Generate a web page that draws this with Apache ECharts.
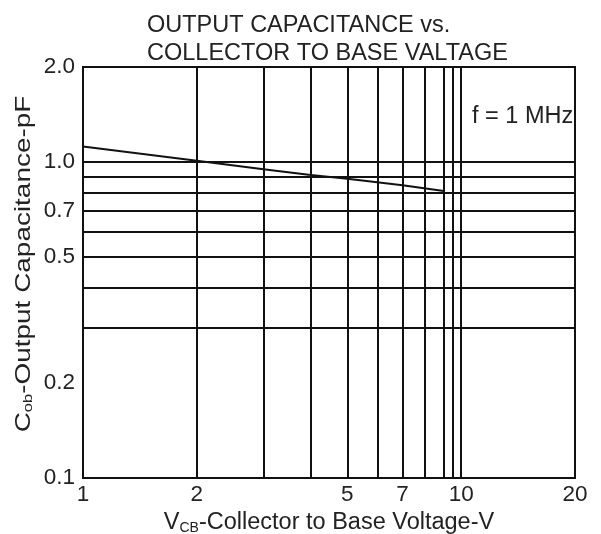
<!DOCTYPE html>
<html><head><meta charset="utf-8">
<script src="https://cdn.jsdelivr.net/npm/echarts@6/dist/echarts.min.js"></script>
<style>html,body{margin:0;padding:0;background:#fff}#c{width:601px;height:534px}</style>
</head><body><div id="c"></div>
<script>
var curveV = [1, 2, 3, 4, 5, 7, 9];
var curveC = [1.12, 1.01, 0.95, 0.91, 0.885, 0.845, 0.81];
var xTickLabels = [1, 2, 5, 7, 10, 20];
var yTickLabels = [0.1, 0.2, 0.5, 0.7, 1.0, 2.0];
var xGridValues = [2, 3, 4, 5, 6, 7, 8, 9, 9.5, 10];
var yGridValues = [0.3, 0.4, 0.5, 0.6, 0.7, 0.8, 0.9, 1.0];
var yAxisTitle = '{a|C}{s|ob}{a|-Output Capacitance-pF}';
var xAxisTitle = '{a|V}{s|CB}{a|-Collector to Base Voltage-V}';

var FONT = '"Liberation Sans", Arial, sans-serif';
var TXT = '#222';
var chart = echarts.init(document.getElementById('c'), null, {renderer: 'canvas'});
var markData = [];
xGridValues.forEach(function (v) { markData.push({xAxis: v}); });
yGridValues.forEach(function (v) { markData.push({yAxis: v}); });

chart.setOption({
  animation: false,
  backgroundColor: '#fff',
  title: [{
    text: 'OUTPUT CAPACITANCE vs.\nCOLLECTOR TO BASE VALTAGE',
    left: 142, top: 7,
    textStyle: {fontFamily: FONT, fontSize: 23.5, fontWeight: 'normal', color: TXT, lineHeight: 27.5}
  }, {
    text: 'f = 1 MHz',
    left: 467, top: 99,
    textStyle: {fontFamily: FONT, fontSize: 23.5, fontWeight: 'normal', color: TXT, lineHeight: 26}
  }],
  graphic: [{
    type: 'text', x: 24, y: 264, rotation: Math.PI / 2, scaleX: 1.27, scaleY: 1,
    silent: true,
    style: {
      text: yAxisTitle, align: 'center', verticalAlign: 'middle',
      rich: {a: {fontFamily: FONT, fontSize: 22, fill: TXT}, s: {fontFamily: FONT, fontSize: 13, fill: TXT, verticalAlign: 'bottom', padding: [6, 0, 0, 0]}}
    }
  }],
  grid: {left: 83, right: 26, top: 67, bottom: 56, outerBoundsMode: 'none', containLabel: false,
    show: true, borderColor: '#111', borderWidth: 2, backgroundColor: 'transparent'},
  xAxis: {
    type: 'log', logBase: 10, min: 1, max: 20,
    axisLine: {show: false}, axisTick: {show: false}, splitLine: {show: false}, minorSplitLine: {show: false},
    axisLabel: {customValues: xTickLabels, fontFamily: FONT, fontSize: 22.5, color: TXT, margin: 5,
      formatter: function (v) { return String(Math.round(v)); }},
    name: xAxisTitle,
    nameLocation: 'middle', nameGap: 28,
    nameTextStyle: {rich: {a: {fontFamily: FONT, fontSize: 23.5, color: TXT}, s: {fontFamily: FONT, fontSize: 14, color: TXT, verticalAlign: 'bottom', padding: [6, 0, 0, 0]}}}
  },
  yAxis: {
    type: 'log', logBase: 10, min: 0.1, max: 2,
    axisLine: {show: false}, axisTick: {show: false}, splitLine: {show: false}, minorSplitLine: {show: false},
    axisLabel: {customValues: yTickLabels, fontFamily: FONT, fontSize: 22.5, color: TXT, margin: 8,
      formatter: function (v) { return Number(v).toFixed(1); }}
  },
  series: [{
    type: 'line',
    data: curveV.map(function (v, i) { return [v, curveC[i]]; }),
    showSymbol: false, symbol: 'none',
    lineStyle: {color: '#111', width: 2},
    markLine: {
      silent: true, symbol: ['none', 'none'], label: {show: false},
      lineStyle: {color: '#111', width: 2, type: 'solid'},
      emphasis: {disabled: true},
      data: markData
    },
    z: 3
  }]
});
</script></body></html>
